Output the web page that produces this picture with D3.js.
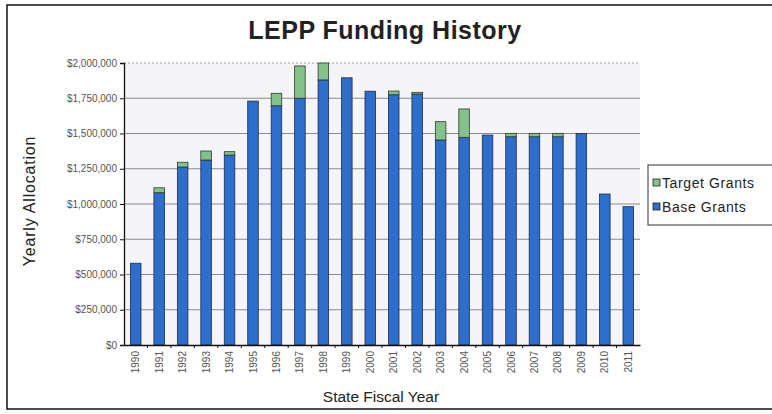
<!DOCTYPE html>
<html>
<head>
<meta charset="utf-8">
<script src="https://cdn.jsdelivr.net/npm/d3@7"></script>
<style>
  html, body { margin: 0; padding: 0; background: #ffffff; }
  svg { display: block; font-family: "Liberation Sans", Arial, sans-serif; }
</style>
</head>
<body>
<svg id="chart" width="772" height="414"></svg>
<script>
const years = ["1990","1991","1992","1993","1994","1995","1996","1997","1998","1999","2000",
               "2001","2002","2003","2004","2005","2006","2007","2008","2009","2010","2011"];
const baseGrants = [580000, 1080000, 1262000, 1312000, 1347000, 1730000, 1697000, 1750000, 1880000, 1895000, 1800000,
                    1775000, 1780000, 1454000, 1473000, 1489000, 1477000, 1477000, 1477000, 1500000, 1071000, 981000];
const targetGrants = [0, 35000, 34000, 64000, 24000, 0, 88000, 229000, 120000, 0, 0,
                      26000, 12000, 130000, 201000, 0, 24000, 24000, 24000, 0, 0, 0];
const yTicks = [0, 250000, 500000, 750000, 1000000, 1250000, 1500000, 1750000, 2000000];
const seriesNames = ["Target Grants", "Base Grants"];
const colors = { base: "#2d6dcc", target: "#86c08a" };

const svg = d3.select("#chart");
const m = { left: 124, right: 640, top: 63, bottom: 345 };

// outer border
svg.append("rect").attr("x", 7).attr("y", 5).attr("width", 770).attr("height", 404)
  .attr("fill", "#fff").attr("stroke", "#111").attr("stroke-width", 1.5);

// plot background
svg.append("rect").attr("x", m.left).attr("y", m.top)
  .attr("width", m.right - m.left).attr("height", m.bottom - m.top)
  .attr("fill", "#f5f5f8");

const x = d3.scaleBand().domain(years).range([m.left, m.right]).paddingInner(0.55).paddingOuter(0.275);
const y = d3.scaleLinear().domain([0, 2000000]).range([m.bottom, m.top]);

// gridlines
svg.append("g").selectAll("line").data(yTicks.filter(d => d > 0)).join("line")
  .attr("x1", m.left).attr("x2", m.right)
  .attr("y1", d => y(d)).attr("y2", d => y(d))
  .attr("stroke", d => d === 2000000 ? "#9a9aa8" : "#8a8a90")
  .attr("stroke-width", 1)
  .attr("stroke-dasharray", d => d === 2000000 ? "2,2" : null);

// bars
const data = years.map((yr, i) => ({ yr, base: baseGrants[i], target: targetGrants[i] }));
const g = svg.append("g");
g.selectAll("rect.base").data(data).join("rect").attr("class", "base")
  .attr("x", d => x(d.yr)).attr("width", x.bandwidth())
  .attr("y", d => y(d.base)).attr("height", d => y(0) - y(d.base))
  .attr("fill", colors.base).attr("stroke", "#1d2c4a").attr("stroke-width", 0.8);
g.selectAll("rect.target").data(data.filter(d => d.target > 0)).join("rect").attr("class", "target")
  .attr("x", d => x(d.yr)).attr("width", x.bandwidth())
  .attr("y", d => y(d.base + d.target)).attr("height", d => y(d.base) - y(d.base + d.target))
  .attr("fill", colors.target).attr("stroke", "#2e3a2e").attr("stroke-width", 0.8);

// y axis
const yAxis = d3.axisLeft(y).tickValues(yTicks).tickSize(4).tickPadding(3)
  .tickFormat(d => "$" + d3.format(",")(d));
const ya = svg.append("g").attr("transform", `translate(${m.left},0)`).call(yAxis);
ya.select(".domain").attr("stroke", "#111").attr("stroke-width", 1.3);
ya.selectAll(".tick line").attr("stroke", "#111");
ya.selectAll("text").attr("font-size", 10).attr("fill", "#555");

// x axis
const xAxis = d3.axisBottom(x).tickSize(0).tickPadding(0);
const xa = svg.append("g").attr("transform", `translate(0,${m.bottom})`).call(xAxis);
xa.select(".domain").attr("stroke", "#111").attr("stroke-width", 1.3);
xa.selectAll("text")
  .attr("font-size", 10).attr("fill", "#555")
  .attr("transform", "rotate(-90)")
  .attr("text-anchor", "end")
  .attr("dy", "0.35em")
  .attr("x", -6).attr("y", 0);
// category separator ticks
svg.append("g").selectAll("line").data(years.slice(1)).join("line")
  .attr("x1", d => x(d) - x.step() * x.paddingInner() / 2)
  .attr("x2", d => x(d) - x.step() * x.paddingInner() / 2)
  .attr("y1", m.bottom).attr("y2", m.bottom + 3)
  .attr("stroke", "#111");

// title
svg.append("text").attr("x", 385).attr("y", 39).attr("text-anchor", "middle")
  .attr("font-size", 25).attr("font-weight", "bold").attr("fill", "#222")
  .attr("letter-spacing", 0.5)
  .text("LEPP Funding History");

// axis titles
svg.append("text").attr("transform", "translate(35,201) rotate(-90)")
  .attr("text-anchor", "middle").attr("font-size", 16).attr("fill", "#222")
  .attr("letter-spacing", 0.8)
  .text("Yearly Allocation");
svg.append("text").attr("x", 381).attr("y", 402).attr("text-anchor", "middle")
  .attr("font-size", 15.5).attr("fill", "#222")
  .text("State Fiscal Year");

// legend
const lg = svg.append("g");
lg.append("rect").attr("x", 648).attr("y", 165).attr("width", 130).attr("height", 60)
  .attr("fill", "#fff").attr("stroke", "#333").attr("stroke-width", 1);
const legItems = [{ name: seriesNames[0], color: colors.target }, { name: seriesNames[1], color: colors.base }];
legItems.forEach((it, i) => {
  const yy = 183 + i * 24;
  lg.append("rect").attr("x", 653).attr("y", yy - 4).attr("width", 7).attr("height", 7)
    .attr("fill", it.color).attr("stroke", "#222").attr("stroke-width", 0.8);
  lg.append("text").attr("x", 662).attr("y", yy).attr("dy", "0.35em")
    .attr("font-size", 14).attr("fill", "#222").attr("letter-spacing", 0.6).text(it.name);
});
</script>
</body>
</html>
